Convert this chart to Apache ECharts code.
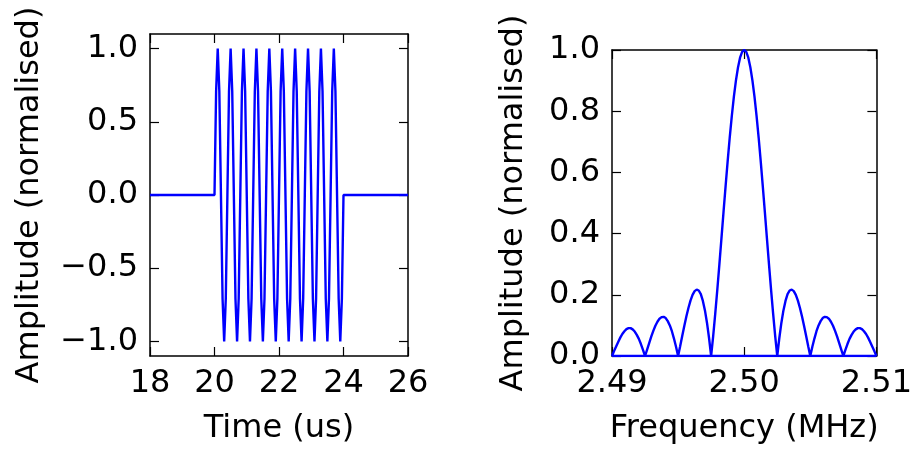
<!DOCTYPE html>
<html>
<head>
	<meta charset="utf-8">
	<title></title>
	<script type="text/javascript" src="https://cdn.jsdelivr.net/npm/echarts@6/dist/echarts.min.js"></script>
	<style>
		body { margin: 0; background: #fff; }
	</style>
</head>
<body>
<div id="main" style="width:915px;height:450px;"></div>
<script type="text/javascript">
// burst in the time domain, sampled every 0.05 us from 20 us
var burstStart = 20;
var burstStep = 0.05;
var burstValues = [
	0, 0.707, 1, 0.707, 0, -0.707, -1, -0.707,
	0, 0.707, 1, 0.707, 0, -0.707, -1, -0.707,
	0, 0.707, 1, 0.707, 0, -0.707, -1, -0.707,
	0, 0.707, 1, 0.707, 0, -0.707, -1, -0.707,
	0, 0.707, 1, 0.707, 0, -0.707, -1, -0.707,
	0, 0.707, 1, 0.707, 0, -0.707, -1, -0.707,
	0, 0.707, 1, 0.707, 0, -0.707, -1, -0.707,
	0, 0.707, 1, 0.707, 0, -0.707, -1, -0.707,
	0, 0.707, 1, 0.707, 0, -0.707, -1, -0.707,
	0, 0.707, 1, 0.707, 0, -0.707, -1, -0.707,
	0
];
var timeTicks = [18, 20, 22, 24, 26];
var ampTicks = [-1, -0.5, 0, 0.5, 1];

// spectrum magnitude, from 2.49 MHz in steps of 0.00015625 MHz
var freqStart = 2.49;
var freqStep = 0.00015625;
var specValues = [
	0, 0.016, 0.031, 0.046, 0.060, 0.072, 0.081, 0.088,
	0.091, 0.091, 0.087, 0.080, 0.069, 0.056, 0.039, 0.020,
	0, 0.021, 0.042, 0.063, 0.082, 0.099, 0.112, 0.122,
	0.127, 0.128, 0.124, 0.114, 0.100, 0.081, 0.057, 0.030,
	0, 0.032, 0.065, 0.098, 0.129, 0.157, 0.181, 0.200,
	0.212, 0.217, 0.214, 0.202, 0.180, 0.149, 0.108, 0.058,
	0, 0.066, 0.139, 0.218, 0.300, 0.385, 0.471, 0.555,
	0.637, 0.714, 0.784, 0.847, 0.900, 0.943, 0.975, 0.994,
	1.000,
	0.994, 0.975, 0.943, 0.900, 0.847, 0.784, 0.714, 0.637,
	0.555, 0.471, 0.385, 0.300, 0.218, 0.139, 0.066, 0,
	0.058, 0.108, 0.149, 0.180, 0.202, 0.214, 0.217, 0.212,
	0.200, 0.181, 0.157, 0.129, 0.098, 0.065, 0.032, 0,
	0.030, 0.057, 0.081, 0.100, 0.114, 0.124, 0.128, 0.127,
	0.122, 0.112, 0.099, 0.082, 0.063, 0.042, 0.021, 0,
	0.020, 0.039, 0.056, 0.069, 0.080, 0.087, 0.091, 0.091,
	0.088, 0.081, 0.072, 0.060, 0.046, 0.031, 0.016, 0
];
var freqTicks = [2.49, 2.50, 2.51];

var timeData = [[18, 0]];
burstValues.forEach(function (v, i) {
	timeData.push([burstStart + i * burstStep, v]);
});
timeData.push([26, 0]);

var specData = specValues.map(function (v, i) {
	return [freqStart + i * freqStep, v];
});

var font = 'DejaVu Sans';
var blue = '#0000ff';
var fs = 32;

function fmtAmp(v) {
	if (Math.abs(v) < 1e-9) return '0.0';
	return (v < 0 ? '\u2212' : '') + Math.abs(v).toFixed(1);
}

function frameAxis(grid, pos, min, max, extra) {
	var ax = {
		gridIndex: grid,
		type: 'value',
		position: pos,
		min: min,
		max: max,
		axisLine: { show: true, onZero: false, lineStyle: { color: '#000', width: 1.5 } },
		axisTick: { show: true, inside: true, length: 9, lineStyle: { color: '#000', width: 1.2 } },
		axisLabel: { show: false },
		splitLine: { show: false }
	};
	for (var k in extra) ax[k] = extra[k];
	return ax;
}

var labelStyle = { fontFamily: font, fontSize: fs, color: '#000' };

var myChart = echarts.init(document.getElementById('main'));
option = {
	animation: false,
	grid: [
		{ left: 150, top: 34, width: 258, height: 322 },
		{ left: 612, top: 50, width: 271, height: 306 }
	],
	xAxis: [
		frameAxis(0, 'bottom', 18, 26, {
			interval: 2,
			name: 'Time (us)',
			nameLocation: 'middle',
			nameGap: 57,
			nameTextStyle: labelStyle,
			axisLabel: { show: true, margin: 12, fontFamily: font, fontSize: fs, color: '#000',
				showMinLabel: true, showMaxLabel: true }
		}),
		frameAxis(0, 'top', 18, 26, { interval: 2 }),
		frameAxis(1, 'bottom', 2.49, 2.51, {
			name: 'Frequency (MHz)',
			nameLocation: 'middle',
			nameGap: 57,
			nameTextStyle: labelStyle,
			axisTick: { show: true, inside: true, length: 9, customValues: freqTicks,
				lineStyle: { color: '#000', width: 1.2 } },
			axisLabel: { show: true, margin: 12, fontFamily: font, fontSize: fs, color: '#000',
				customValues: freqTicks, showMinLabel: true, showMaxLabel: true,
				formatter: function (v) { return v.toFixed(2); } }
		}),
		frameAxis(1, 'top', 2.49, 2.51, {
			axisTick: { show: true, inside: true, length: 9, customValues: freqTicks,
				lineStyle: { color: '#000', width: 1.2 } }
		})
	],
	yAxis: [
		frameAxis(0, 'left', -1.1, 1.1, {
			name: 'Amplitude (normalised)',
			nameLocation: 'middle',
			nameGap: 104,
			nameTextStyle: labelStyle,
			axisTick: { show: true, inside: true, length: 9, customValues: ampTicks,
				lineStyle: { color: '#000', width: 1.2 } },
			axisLabel: { show: true, margin: 12, fontFamily: font, fontSize: fs, color: '#000',
				customValues: ampTicks, formatter: fmtAmp }
		}),
		frameAxis(0, 'right', -1.1, 1.1, {
			axisTick: { show: true, inside: true, length: 9, customValues: ampTicks,
				lineStyle: { color: '#000', width: 1.2 } }
		}),
		frameAxis(1, 'left', 0, 1, {
			interval: 0.2,
			name: 'Amplitude (normalised)',
			nameLocation: 'middle',
			nameGap: 82,
			nameTextStyle: labelStyle,
			axisLabel: { show: true, margin: 12, fontFamily: font, fontSize: fs, color: '#000',
				showMinLabel: true, showMaxLabel: true, formatter: fmtAmp }
		}),
		frameAxis(1, 'right', 0, 1, { interval: 0.2 })
	],
	series: [
		{
			type: 'line',
			xAxisIndex: 0,
			yAxisIndex: 0,
			data: timeData,
			showSymbol: false,
			lineStyle: { color: blue, width: 2.4 },
			z: 5
		},
		{
			type: 'line',
			xAxisIndex: 2,
			yAxisIndex: 2,
			data: specData,
			showSymbol: false,
			lineStyle: { color: blue, width: 2.4 },
			z: 5
		},
		{
			type: 'line',
			xAxisIndex: 2,
			yAxisIndex: 2,
			data: [[2.49, 0], [2.51, 0]],
			showSymbol: false,
			lineStyle: { color: blue, width: 2.4 },
			z: 5
		}
	]
};
myChart.setOption(option);
</script>
</body>
</html>
